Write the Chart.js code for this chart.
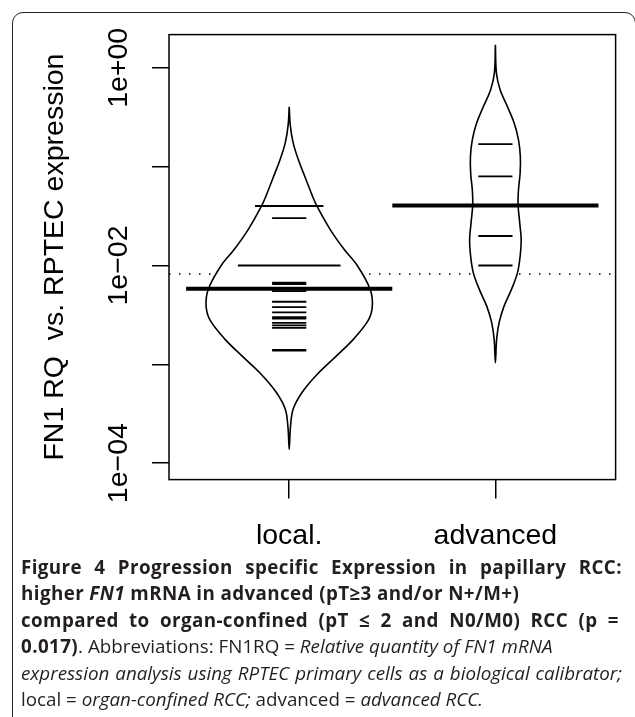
<!DOCTYPE html>
<html>
<head>
<meta charset="utf-8">
<script src="https://cdn.jsdelivr.net/npm/chart.js@4.4.1/dist/chart.umd.min.js"></script>
<style>
  html, body { margin: 0; padding: 0; background: #fff; }
  body { width: 635px; height: 717px; position: relative; overflow: hidden; }
  #frame { position: absolute; left: 12px; top: 12px; width: 621.5px; height: 760px;
           border: 1.5px solid #222; border-radius: 11px; }
  #chart { position: absolute; left: 0; top: 0; }
  #caption { position: absolute; left: 21px; top: 553.75px; font-family: 'Open Sans', sans-serif;
             font-size: 18.8px; line-height: 26.5px; color: #231f20; }
  #caption .ln { white-space: nowrap; height: 26.5px; }
  #caption .j { text-align: justify; text-align-last: justify; }
  #caption b { letter-spacing: 0.4px; }
</style>
</head>
<body>
<div id="frame"></div>
<canvas id="chart" width="635" height="560"></canvas>
<div id="caption">
  <div class="ln j" style="width:601px"><b>Figure 4 Progression specific Expression in papillary RCC:</b></div>
  <div class="ln"><b>higher <i>FN1</i> mRNA in advanced (pT≥3 and/or N+/M+)</b></div>
  <div class="ln j" style="width:598px"><b>compared to organ-confined (pT ≤ 2 and N0/M0) RCC (p =</b></div>
  <div class="ln"><b>0.017)</b>. Abbreviations: FN1RQ = <i>Relative quantity of FN1 mRNA</i></div>
  <div class="ln j" style="width:601px"><i>expression analysis using RPTEC primary cells as a biological calibrator;</i></div>
  <div class="ln">local = <i>organ-confined RCC;</i> advanced = <i>advanced RCC.</i></div>
</div>
<script>
const categories = ['local.', 'advanced'];
const yTickValues = [1e-4, 1e-3, 1e-2, 1e-1, 1];
const yTickLabels = ['1e\u221204', '', '1e\u221202', '', '1e+00'];

// bean outlines: RQ value (top to bottom) and half width in group units
const localOutlineY = [0.404, 0.265, 0.175, 0.118, 0.0774, 0.0509, 0.0394, 0.0231, 0.0145, 0.0100,
                       0.00573, 0.00386, 0.00278, 0.00179, 0.00121, 0.000793, 0.000521, 0.000351, 0.000231, 0.000138];
const localOutlineW = [0, 0.005, 0.019, 0.044, 0.078, 0.112, 0.136, 0.199, 0.267, 0.330,
                       0.393, 0.403, 0.383, 0.311, 0.228, 0.136, 0.063, 0.019, 0.006, 0];
const advancedOutlineY = [1.71, 0.883, 0.600, 0.406, 0.276, 0.187, 0.127, 0.0863, 0.0586, 0.0413,
                          0.0270, 0.0183, 0.0124, 0.00843, 0.00573, 0.00388, 0.00264, 0.00179, 0.00104];
const advancedOutlineW = [0, 0.005, 0.023, 0.058, 0.091, 0.112, 0.121, 0.120, 0.112, 0.110,
                          0.118, 0.125, 0.120, 0.107, 0.078, 0.042, 0.018, 0.006, 0];

// single observations (bean lines); counts > 1 are drawn longer
const localValues = [0.0400, 0.0301, 0.0100, 0.0067, 0.0065, 0.0055, 0.0043, 0.0038, 0.00335,
                     0.0030, 0.0029, 0.00263, 0.00248, 0.00234, 0.00140, 0.00138];
const localCounts = [2, 1, 3, 1, 1, 1, 1, 1, 1, 1, 1, 1, 1, 1, 1, 1];
const advancedValues = [0.169, 0.0798, 0.0199, 0.0100];
const advancedCounts = [1, 1, 1, 1];

const groupMeans = [0.00582, 0.0404];
const overallMean = 0.00822;

const FONT = '"Liberation Sans", Arial, Helvetica, sans-serif';
const FSIZE = 28.5;
const LINE_HALF = 0.083;
const MEAN_HALF = 0.5;

function beanShape(center, ys, ws) {
  const pts = [];
  for (let i = 0; i < ys.length; i++) pts.push({x: center - ws[i], y: ys[i]});
  for (let i = ys.length - 2; i >= 0; i--) pts.push({x: center + ws[i], y: ys[i]});
  return pts;
}

function beanLines(center, vals, counts) {
  const pts = [];
  vals.forEach((v, i) => {
    pts.push({x: center - LINE_HALF * counts[i], y: v});
    pts.push({x: center + LINE_HALF * counts[i], y: v});
    pts.push({x: center, y: null});
  });
  return pts;
}

const meanPts = [];
groupMeans.forEach((m, i) => {
  meanPts.push({x: i + 1 - MEAN_HALF, y: m}, {x: i + 1 + MEAN_HALF, y: m}, {x: i + 1, y: null});
});

// place rotated y labels like R does (centre of text ~119px from left)
const tmp = document.createElement('canvas').getContext('2d');
tmp.font = FSIZE + 'px ' + FONT;
const widest = Math.max(...yTickLabels.map(l => tmp.measureText(l).width));
const yPad = 169 - 17 - 119 - widest / 2;

const boxPlugin = {
  id: 'box',
  afterDraw(chart) {
    const {ctx, chartArea: a} = chart;
    ctx.save();
    ctx.strokeStyle = '#000';
    ctx.lineWidth = 1.5;
    ctx.strokeRect(a.left, a.top, a.right - a.left, a.bottom - a.top);
    ctx.restore();
  }
};

const line = {showLine: true, pointRadius: 0, borderColor: '#000', fill: false, tension: 0};

new Chart(document.getElementById('chart').getContext('2d'), {
  type: 'scatter',
  data: {
    datasets: [
      Object.assign({}, line, {data: meanPts, borderWidth: 4, order: 0}),
      Object.assign({}, line, {data: beanLines(1, localValues, localCounts), borderWidth: 1.8, order: 1}),
      Object.assign({}, line, {data: beanLines(2, advancedValues, advancedCounts), borderWidth: 1.8, order: 1}),
      Object.assign({}, line, {data: beanShape(1, localOutlineY, localOutlineW), borderWidth: 1.6,
        tension: 0.35, fill: 'shape', backgroundColor: '#fff', borderJoinStyle: 'round', order: 2}),
      Object.assign({}, line, {data: beanShape(2, advancedOutlineY, advancedOutlineW), borderWidth: 1.6,
        tension: 0.35, fill: 'shape', backgroundColor: '#fff', borderJoinStyle: 'round', order: 2}),
      Object.assign({}, line, {data: [{x: 0.417, y: overallMean}, {x: 2.583, y: overallMean}],
        borderWidth: 1.5, borderDash: [1.5, 8.5], order: 3})
    ]
  },
  options: {
    responsive: false,
    animation: false,
    devicePixelRatio: 1,
    layout: { padding: {top: 34.6, right: 19.4, left: 0, bottom: 0} },
    plugins: { legend: {display: false}, tooltip: {enabled: false} },
    scales: {
      x: {
        type: 'linear',
        min: 0.417,
        max: 2.583,
        afterBuildTicks: s => { s.ticks = [{value: 1}, {value: 2}]; },
        afterFit: s => { s.height = 560 - 479.6; },
        grid: {drawOnChartArea: false, drawTicks: true, tickLength: 19, color: '#000', lineWidth: 1.5},
        border: {display: false},
        ticks: {
          autoSkip: false, maxRotation: 0, padding: 20, color: '#000',
          font: {family: FONT, size: FSIZE},
          callback: v => categories[v - 1]
        }
      },
      y: {
        type: 'logarithmic',
        min: 6.82e-5,
        max: 2.17,
        afterBuildTicks: s => { s.ticks = yTickValues.map(v => ({value: v})); },
        afterFit: s => { s.width = 169; },
        grid: {drawOnChartArea: false, drawTicks: true, tickLength: 17, color: '#000', lineWidth: 1.5},
        border: {display: false},
        ticks: {
          autoSkip: false, minRotation: 90, maxRotation: 90, crossAlign: 'center',
          padding: yPad, color: '#000',
          font: {family: FONT, size: FSIZE},
          callback: (v, i) => yTickLabels[i]
        },
        title: {
          display: true,
          text: 'FN1 RQ  vs. RPTEC expression',
          color: '#000',
          font: {family: FONT, size: FSIZE},
          padding: {top: 38, bottom: 0}
        }
      }
    }
  },
  plugins: [boxPlugin]
});
</script>
</body>
</html>
